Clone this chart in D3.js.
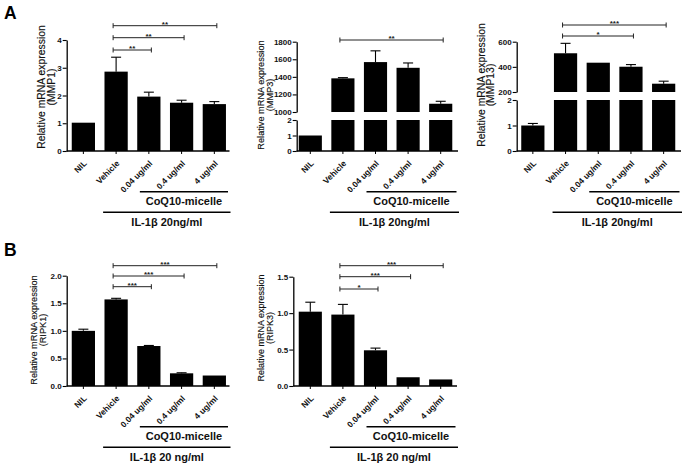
<!DOCTYPE html>
<html><head><meta charset="utf-8">
<script src="https://cdn.jsdelivr.net/npm/d3@7"></script>
<style>body{margin:0;background:#fff} svg{display:block;font-family:"Liberation Sans",Arial,sans-serif}</style>
</head><body>
<svg id="chart" width="683" height="467"></svg>
<script>
const categories = ["NIL","Vehicle","0.04 ug/ml","0.4 ug/ml","4 ug/ml"];
const mmp1Values = [1.02, 2.86, 1.96, 1.74, 1.69];
const mmp1Errors = [0, 0.52, 0.16, 0.09, 0.09];
const mmp1Ticks = [0,1,2,3,4];
const mmp3Values = [1.0, 1383, 1568, 1503, 1094];
const mmp3Errors = [0, 8, 128, 55, 28];
const mmp3LowerTicks = [0,1,2];
const mmp3UpperTicks = [1000,1200,1400,1600,1800];
const mmp13Values = [1.0, 508, 433, 401, 266];
const mmp13Errors = [0.08, 79, 0, 17, 20];
const mmp13LowerTicks = [0,1,2];
const mmp13UpperTicks = [200,400,600];
const ripk1Values = [1.0, 1.57, 0.725, 0.23, 0.19];
const ripk1Errors = [0.03, 0.02, 0.01, 0.01, 0];
const ripk1Ticks = [0,0.5,1,1.5,2];
const ripk3Values = [1.02, 0.98, 0.49, 0.12, 0.09];
const ripk3Errors = [0.13, 0.14, 0.03, 0, 0];
const ripk3Ticks = [0,0.5,1,1.5];
const mmp1Sig = [[1,2,"**"],[1,3,"**"],[1,4,"**"]];
const mmp3Sig = [[1,4,"**"]];
const mmp13Sig = [[1,3,"*"],[1,4,"***"]];
const ripk1Sig = [[1,2,"***"],[1,3,"***"],[1,4,"***"]];
const ripk3Sig = [[1,2,"*"],[1,3,"***"],[1,4,"***"]];
const yTitle = "Relative mRNA expression";
const treatmentLabel = "CoQ10-micelle";
const stimulusLabelA = "IL-1β 20ng/ml";
const stimulusLabelB = "IL-1β 20 ng/ml";
const panelLetters = ["A","B"];

const svg = d3.select("#chart");
const FONT = '"Liberation Sans",Arial,sans-serif';

function drawPanel(cfg){
  const g = svg.append("g");
  const x = d3.scaleBand().domain(categories).range(cfg.band).paddingInner(0.29).paddingOuter(0.145);
  const cx = i => x(categories[i]) + x.bandwidth()/2;
  const segs = cfg.segments.map(s => Object.assign({}, s, {scale: d3.scaleLinear().domain(s.domain).range(s.range)}));
  const rows = cfg.values.map((v,i)=>({v, e: cfg.errors[i], c: categories[i], i}));

  segs.forEach(s => {
    g.append("g").selectAll("rect").data(rows.filter(d => d.v > s.domain[0])).join("rect")
      .attr("x", d => x(d.c)).attr("width", x.bandwidth())
      .attr("y", d => s.scale(Math.min(d.v, s.domain[1])))
      .attr("height", d => s.scale(s.domain[0]) - s.scale(Math.min(d.v, s.domain[1])))
      .attr("fill", "#000");
  });
  rows.filter(d => d.e > 0).forEach(d => {
    const s = segs.find(s => d.v >= s.domain[0] && d.v <= s.domain[1] * 1.0001) || segs[segs.length-1];
    const c = cx(d.i);
    g.append("line").attr("x1", c).attr("x2", c).attr("y1", s.scale(d.v)).attr("y2", s.scale(d.v + d.e))
      .attr("stroke", "#000").attr("stroke-width", 1.1);
    g.append("line").attr("x1", c - 5).attr("x2", c + 5).attr("y1", s.scale(d.v + d.e)).attr("y2", s.scale(d.v + d.e))
      .attr("stroke", "#000").attr("stroke-width", 1.1);
  });
  segs.forEach(s => {
    const ax = g.append("g").attr("transform", `translate(${cfg.axisX},0)`)
      .call(d3.axisLeft(s.scale).tickValues(s.ticks).tickSize(4).tickSizeOuter(0).tickFormat(cfg.fmt));
    ax.select(".domain").attr("stroke", "#000").attr("stroke-width", 1.3);
    ax.selectAll(".tick line").attr("stroke", "#000").attr("stroke-width", 1.1);
    ax.selectAll(".tick text").attr("font-family", FONT).attr("font-size", 8).attr("font-weight", "bold").attr("fill", "#111").attr("x", -5);
  });
  g.append("line").attr("x1", cfg.axisX).attr("x2", cfg.xEnd).attr("y1", cfg.y0).attr("y2", cfg.y0)
    .attr("stroke", "#000").attr("stroke-width", 1.3);
  const xa = g.append("g").attr("transform", `translate(0,${cfg.y0})`)
    .call(d3.axisBottom(x).tickSize(3).tickSizeOuter(0));
  xa.select(".domain").remove();
  xa.selectAll(".tick line").attr("stroke", "#000").attr("stroke-width", 1);
  xa.selectAll(".tick text").attr("font-family", FONT).attr("font-size", 8.4).attr("font-weight", "bold").attr("fill", "#111")
    .attr("x", 0).attr("y", 0).attr("dy", 0).attr("text-anchor", "end")
    .attr("transform", "translate(4,13) rotate(-45)");
  const tg = g.append("g").attr("transform", `translate(0,${cfg.labelY})`);
  [yTitle, "(" + cfg.gene + ")"].forEach((t, k) => {
    tg.append("text").attr("transform", `translate(${cfg.labelX[k]},0) rotate(-90)`)
      .attr("text-anchor", "middle").attr("dominant-baseline", "central")
      .attr("font-family", FONT).attr("font-size", cfg.labelSize).attr("fill", "#111")
      .attr("stroke", "#111").attr("stroke-width", 0.15).text(t);
  });
  cfg.sig.forEach((sg, j) => {
    const y = cfg.sigY[j], xa1 = cx(sg[0]) - 3, xb = cx(sg[1]) + 2.5;
    const bg = g.append("g").attr("stroke", "#222").attr("stroke-width", 1);
    bg.append("line").attr("x1", xa1).attr("x2", xb).attr("y1", y).attr("y2", y);
    bg.append("line").attr("x1", xa1).attr("x2", xa1).attr("y1", y - 2.5).attr("y2", y + 2.5);
    bg.append("line").attr("x1", xb).attr("x2", xb).attr("y1", y - 2.5).attr("y2", y + 2.5);
    g.append("text").attr("x", (xa1 + xb) / 2).attr("y", y + 1).attr("text-anchor", "middle")
      .attr("font-family", FONT).attr("font-size", 8).attr("font-weight", "bold").attr("fill", "#222").text(sg[2]);
  });
  const l1y = cfg.y0 + 40.7, l2y = cfg.y0 + 61.3;
  const c1 = [cx(2) - 9, cfg.xEnd - 1.5], c2 = [cx(1) - 13, cfg.xEnd + 1];
  g.append("line").attr("x1", c1[0]).attr("x2", c1[1]).attr("y1", l1y).attr("y2", l1y).attr("stroke", "#000").attr("stroke-width", 1.6);
  g.append("line").attr("x1", c2[0]).attr("x2", c2[1]).attr("y1", l2y).attr("y2", l2y).attr("stroke", "#000").attr("stroke-width", 1.6);
  g.append("text").attr("x", (c1[0] + c1[1]) / 2).attr("y", cfg.y0 + 54).attr("text-anchor", "middle")
    .attr("font-family", FONT).attr("font-size", 11).attr("font-weight", "bold").attr("fill", "#111").text(treatmentLabel);
  g.append("text").attr("x", (c2[0] + c2[1]) / 2).attr("y", cfg.y0 + 75).attr("text-anchor", "middle")
    .attr("font-family", FONT).attr("font-size", 11).attr("font-weight", "bold").attr("fill", "#111").text(cfg.stim);
}

const fmtInt = d3.format("d"), fmt1 = d3.format(".1f");
drawPanel({gene:"MMP1", values:mmp1Values, errors:mmp1Errors, axisX:66.7, band:[67,230.7], xEnd:229.5, y0:151,
  segments:[{domain:[0,4], range:[151,40], ticks:mmp1Ticks}], fmt:fmtInt, sig:mmp1Sig, sigY:[50,37.7,25.7],
  labelX:[41,51], labelY:87, labelSize:10.4, stim:stimulusLabelA});
drawPanel({gene:"MMP3", values:mmp3Values, errors:mmp3Errors, axisX:296.7, band:[294,457], xEnd:458, y0:151,
  segments:[{domain:[0,2], range:[151,120], ticks:mmp3LowerTicks},{domain:[1000,1800], range:[112,41.7], ticks:mmp3UpperTicks}],
  fmt:fmtInt, sig:mmp3Sig, sigY:[40], labelX:[261,269.5], labelY:95, labelSize:9.2, stim:stimulusLabelA});
drawPanel({gene:"MMP13", values:mmp13Values, errors:mmp13Errors, axisX:516.7, band:[516.5,680], xEnd:681, y0:151,
  segments:[{domain:[0,2], range:[151,100], ticks:mmp13LowerTicks},{domain:[200,600], range:[92,41.7], ticks:mmp13UpperTicks}],
  fmt:fmtInt, sig:mmp13Sig, sigY:[36,25], labelX:[481,490.5], labelY:85, labelSize:10.4, stim:stimulusLabelA});
drawPanel({gene:"RIPK1", values:ripk1Values, errors:ripk1Errors, axisX:66.7, band:[67,230.7], xEnd:229.5, y0:386,
  segments:[{domain:[0,2], range:[386,275.7], ticks:ripk1Ticks}], fmt:fmt1, sig:ripk1Sig, sigY:[286.7,276,265.7],
  labelX:[34,43], labelY:330, labelSize:9.2, stim:stimulusLabelB});
drawPanel({gene:"RIPK3", values:ripk3Values, errors:ripk3Errors, axisX:293.3, band:[294,457], xEnd:457, y0:386,
  segments:[{domain:[0,1.5], range:[386,276.7], ticks:ripk3Ticks}], fmt:fmt1, sig:ripk3Sig, sigY:[289,276.7,265.7],
  labelX:[261,269.5], labelY:328, labelSize:9, stim:stimulusLabelB});

svg.selectAll("text.letter").data(panelLetters).join("text").attr("class","letter")
  .attr("x", 4).attr("y", (d,i) => i === 0 ? 19 : 256)
  .attr("font-family", FONT).attr("font-size", 17.5).attr("font-weight", "bold").attr("fill", "#000").text(d => d);
</script>
</body></html>
